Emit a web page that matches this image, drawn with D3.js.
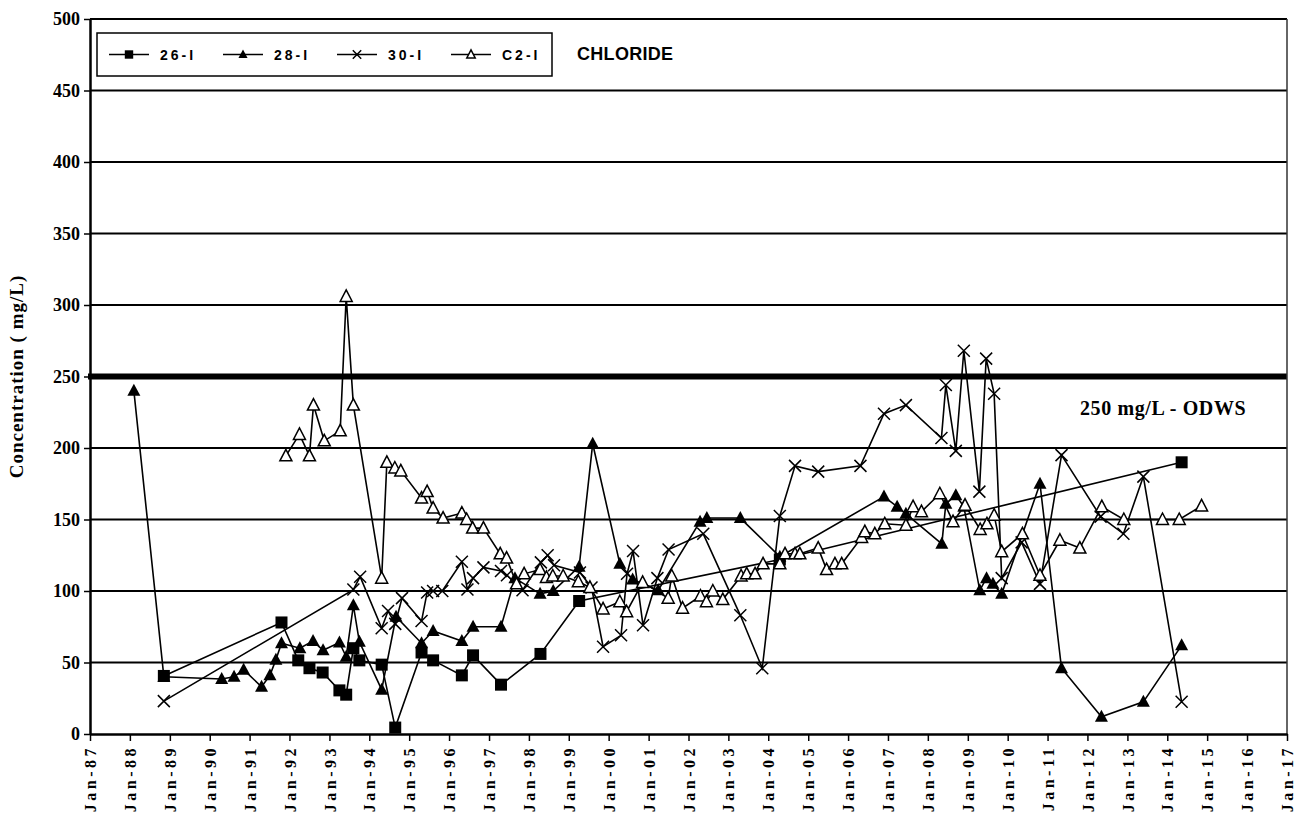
<!DOCTYPE html>
<html><head><meta charset="utf-8">
<script src="https://cdn.jsdelivr.net/npm/d3@7"></script>
<style>body{margin:0;background:#fff}svg{display:block}</style>
</head><body><svg id="c" width="1307" height="823"></svg>
<script>
// ---- data (decimal years / mg/L) ----
const seriesNames = ["26-I", "28-I", "30-I", "C2-I"];
const s26Dates = [1988.85,1991.8,1992.22,1992.5,1992.83,1993.25,1993.42,1993.6,1993.75,1994.31,1994.65,1995.31,1995.6,1996.32,1996.6,1997.3,1998.29,1999.26,2004.29,2014.36];
const s26Values = [40.6,78,51.5,46,43,30.5,27.5,60,51.5,48.5,4.5,57,51.5,41,55,34.5,56,93,122,190];
const s28Dates = [1988.1,1988.85,1990.3,1990.61,1990.85,1991.3,1991.51,1991.66,1991.8,1992.26,1992.59,1992.84,1993.25,1993.42,1993.6,1993.75,1994.31,1994.67,1995.31,1995.6,1996.32,1996.6,1997.3,1997.65,1998.28,1998.61,1999.26,1999.6,2000.28,2000.6,2001.24,2002.29,2002.46,2003.3,2004.29,2006.9,2007.23,2007.45,2008.35,2008.45,2008.7,2008.9,2009.3,2009.47,2009.63,2009.85,2010.81,2011.35,2012.35,2013.4,2014.36];
const s28Values = [240,40,38.5,40,45,33,41,52,63.5,60,65,58.5,64,54,90,64.5,31,82,63.5,72,65,75,75,109,98,100,117,203,119,108,100.5,148.5,151,151,124,166,159,154,133,161,167,159,100.5,109,105,98,175,46,12,22.5,62];
const s30Dates = [1988.85,1993.6,1993.77,1994.31,1994.47,1994.65,1994.82,1995.31,1995.45,1995.6,1995.83,1996.32,1996.46,1996.6,1996.86,1997.3,1997.45,1997.84,1998.3,1998.47,1998.63,1999.28,1999.57,1999.86,2000.31,2000.46,2000.61,2000.86,2001.22,2001.5,2002.37,2003.3,2003.85,2004.29,2004.67,2005.25,2006.31,2006.9,2007.45,2008.34,2008.45,2008.7,2008.9,2009.29,2009.46,2009.66,2009.85,2010.35,2010.81,2011.35,2012.33,2012.9,2013.4,2014.36];
const s30Values = [23,101,110,74,86,77,95,79,99,100,100,120.5,101,109,116.5,114,111,100.5,120,125,118,113,102.5,61,69,112,128,76,109,129,140,83,46,152.5,187.5,183.5,187.5,224,230,207,244,198,268,169.5,262.5,238,109,134,105,195,152,140,180,22.5];
const sC2Dates = [1991.91,1992.25,1992.5,1992.6,1992.87,1993.27,1993.42,1993.6,1994.31,1994.44,1994.64,1994.79,1995.31,1995.45,1995.6,1995.85,1996.32,1996.44,1996.59,1996.86,1997.28,1997.44,1997.69,1997.88,1998.28,1998.44,1998.6,1998.86,1999.24,1999.53,1999.86,2000.28,2000.45,2000.85,2001.49,2001.58,2001.85,2002.3,2002.45,2002.61,2002.86,2003.32,2003.46,2003.67,2003.87,2004.29,2004.42,2004.67,2004.79,2005.25,2005.46,2005.67,2005.84,2006.34,2006.42,2006.67,2006.92,2007.45,2007.63,2007.84,2008.3,2008.63,2008.93,2009.31,2009.48,2009.66,2009.85,2010.37,2010.81,2011.31,2011.81,2012.36,2012.91,2013.88,2014.3,2014.86];
const sC2Values = [194.5,209.5,194.5,230,205,212,306,230,109,190,186,184,165,169.5,158,151,154.5,150,144,144,126,123,105,112,115,109.5,110.5,110.5,106.5,102.5,87.5,92.5,85.5,106,95,110.5,88,96.5,92.5,100,94,110.5,112,112,119,119,126,126,126,130,115,119,119,137.5,141.5,140,147,146,159,155.5,168,148.5,160,143,147,153,127.5,140,111,135.5,130,159,150,150,150,159.5];
const yTickValues = [0,50,100,150,200,250,300,350,400,450,500];
const xTickYears = d3.range(1987, 2018);
const chartTitle = "CHLORIDE";
const limitValue = 250;
const limitLabel = "250 mg/L - ODWS";
const yAxisTitle = "Concentration ( mg/L)";

// ---- helpers ----
function decToDate(d){const yr=Math.floor(d);const a=new Date(yr,0,1),b=new Date(yr+1,0,1);return new Date(+a+(d-yr)*(b-a));}
const svg = d3.select("#c");
const L=90,R=1287,T=19,B=734;
const x = d3.scaleTime().domain([new Date(1987,0,1), new Date(2017,0,1)]).range([L,R]);
const y = d3.scaleLinear().domain([0,500]).range([B,T]);
const serif = "'Liberation Serif','Times New Roman',serif";
const sans = "'Liberation Sans',Arial,sans-serif";

// gridlines
svg.append("g").selectAll("line").data(yTickValues.filter(v=>v>0 && v!==limitValue)).join("line")
  .attr("x1",L).attr("x2",R).attr("y1",d=>y(d)).attr("y2",d=>y(d))
  .attr("stroke","#000").attr("stroke-width",2);
// limit line
svg.append("line").attr("x1",L-2).attr("x2",R).attr("y1",y(limitValue)).attr("y2",y(limitValue))
  .attr("stroke","#000").attr("stroke-width",6);
// right border
svg.append("line").attr("x1",R).attr("x2",R).attr("y1",T).attr("y2",B).attr("stroke","#333").attr("stroke-width",1.5);

// y axis
const yAxis = d3.axisLeft(y).tickValues(yTickValues).tickSize(6).tickSizeOuter(0).tickFormat(d3.format("d"));
const gy = svg.append("g").attr("transform",`translate(${L},0)`).call(yAxis);
gy.select(".domain").attr("stroke","#000").attr("stroke-width",2.5);
gy.selectAll(".tick line").attr("stroke","#000").attr("stroke-width",1.5);
gy.selectAll(".tick text").attr("x",-10).attr("font-family",serif).attr("font-weight","bold").attr("font-size",18).attr("fill","#000");

// x axis
const xAxis = d3.axisBottom(x).tickValues(xTickYears.map(yv=>new Date(yv,0,1))).tickSize(7).tickSizeOuter(0).tickFormat(d3.timeFormat("Jan-%y"));
const gx = svg.append("g").attr("transform",`translate(0,${B})`).call(xAxis);
gx.select(".domain").attr("stroke","#000").attr("stroke-width",2.5);
gx.selectAll(".tick line").attr("stroke","#000").attr("stroke-width",1.5);
gx.selectAll(".tick text").attr("transform","rotate(-90)").attr("text-anchor","end")
  .attr("x",-11).attr("y",0).attr("dy","0.35em")
  .attr("font-family",serif).attr("font-weight","bold").attr("font-size",16).attr("letter-spacing","3.5px").attr("fill","#000");

// y title
svg.append("text").attr("transform",`translate(23,${(T+B)/2}) rotate(-90)`).attr("text-anchor","middle")
  .attr("font-family",serif).attr("font-weight","bold").attr("font-size",19).attr("letter-spacing","1px").text(yAxisTitle);

// limit label
svg.append("text").attr("x",1080).attr("y",y(limitValue)+38).attr("font-family",serif).attr("font-weight","bold").attr("font-size",20).attr("letter-spacing","0.6px").text(limitLabel);

// markers
function drawMarker(g, kind, cx, cy, scale){
  const s = scale||1;
  if(kind==="square"){
    g.append("rect").attr("x",cx-6*s).attr("y",cy-6*s).attr("width",12*s).attr("height",12*s).attr("fill","#000");
  } else if(kind==="tri"){
    g.append("path").attr("d",`M${cx},${cy-7*s}L${cx+6.5*s},${cy+5*s}L${cx-6.5*s},${cy+5*s}Z`).attr("fill","#000");
  } else if(kind==="x"){
    g.append("path").attr("d",`M${cx-6*s},${cy-6*s}L${cx+6*s},${cy+6*s}M${cx+6*s},${cy-6*s}L${cx-6*s},${cy+6*s}`).attr("stroke","#000").attr("stroke-width",1.5).attr("fill","none");
  } else {
    g.append("path").attr("d",`M${cx},${cy-6.5*s}L${cx+6*s},${cy+5*s}L${cx-6*s},${cy+5*s}Z`).attr("fill","#fff").attr("stroke","#000").attr("stroke-width",1.5);
  }
}
const series = [
  {name:seriesNames[0], dates:s26Dates, values:s26Values, kind:"square"},
  {name:seriesNames[1], dates:s28Dates, values:s28Values, kind:"tri"},
  {name:seriesNames[2], dates:s30Dates, values:s30Values, kind:"x"},
  {name:seriesNames[3], dates:sC2Dates, values:sC2Values, kind:"open"}
];
const line = d3.line().x(d=>x(d.date)).y(d=>y(d.value));
series.forEach(s=>{
  const pts = s.dates.map((d,i)=>({date:decToDate(d), value:s.values[i]}));
  const g = svg.append("g");
  g.append("path").datum(pts).attr("d",line).attr("fill","none").attr("stroke","#000").attr("stroke-width",1.6);
  pts.forEach(p=>drawMarker(g, s.kind, x(p.date), y(p.value), 1));
});

// legend
const lg = svg.append("g");
lg.append("rect").attr("x",97).attr("y",33).attr("width",455).attr("height",43).attr("fill","#fff").attr("stroke","#000").attr("stroke-width",1.5);
series.forEach((s,i)=>{
  const x0 = 109 + i*114, yy = 54.5;
  lg.append("line").attr("x1",x0).attr("x2",x0+40).attr("y1",yy).attr("y2",yy).attr("stroke","#000").attr("stroke-width",1.5);
  drawMarker(lg, s.kind, x0+20, yy, 0.7);
  lg.append("text").attr("x",x0+51).attr("y",yy).attr("dy","0.36em").attr("font-family",sans).attr("font-weight","bold")
    .attr("font-size",14).attr("letter-spacing","3px").text(s.name);
});
svg.append("text").attr("x",577).attr("y",60).attr("font-family",sans).attr("font-weight","bold").attr("font-size",18).attr("letter-spacing","0.3px").text(chartTitle);
</script></body></html>
